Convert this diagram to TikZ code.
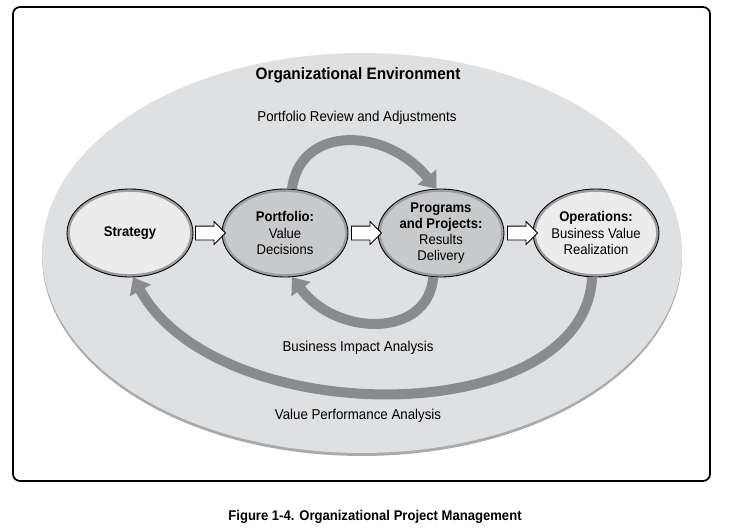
\documentclass[tikz,border=0pt]{standalone}
\usepackage{fontspec}
\setmainfont{Liberation Sans}[FakeStretch=0.93]
\usetikzlibrary{shapes, arrows.meta, positioning, shadows}

\definecolor{envfill}{HTML}{DFE0E2}
\definecolor{envedge}{HTML}{A9AAAC}
\definecolor{lightfill}{HTML}{ECECED}
\definecolor{darkfill}{HTML}{C8C9CB}
\definecolor{ringgray}{HTML}{9C9DA0}
\definecolor{loopgray}{HTML}{8A8B8D}

\begin{document}
\begin{tikzpicture}[x=0.02cm, y=-0.02cm, font=\fontsize{8.15}{9.2}\selectfont,
	stage/.style={ellipse, draw=black, line width=0.5pt, minimum width=2.52cm, minimum height=1.76cm,
		inner sep=-5pt, align=center, font=\fontsize{8}{9.2}\selectfont,
		path picture={\draw[ringgray, line width=3.2pt] (path picture bounding box.center) ellipse [x radius=1.26cm, y radius=0.88cm];}},
	lightstage/.style={stage, fill=lightfill},
	darkstage/.style={stage, fill=darkfill},
	flow/.style={single arrow, draw=black, fill=white, line width=0.5pt, minimum height=0.6cm,
		minimum width=0pt, text height=0pt, text depth=0pt, inner xsep=0pt, inner ysep=0.13cm,
		single arrow head extend=0.09cm},
	loop/.style={draw=loopgray, line width=0.2cm, -{Triangle[width=0.46cm,length=0.3cm]}}]
	\useasboundingbox (0,0) rectangle (752,531);
	\draw[line width=1pt, rounded corners=4pt] (13,7) rectangle (710,481);
	% environment
	\node[ellipse, fill=envfill, minimum width=12.8cm, minimum height=8cm,
		drop shadow={shadow xshift=0pt, shadow yshift=-0.06cm, fill=envedge, opacity=1}] (env) at (362,253) {};
	\node[font=\fontsize{9.4}{11}\selectfont\bfseries] (envtitle) at (358,75) {Organizational Environment};
	% stages
	\node[lightstage] (strat) at (130,233) {\textbf{Strategy}};
	\node[darkstage] (port) at (285,233) {\textbf{Portfolio:}\\Value\\Decisions};
	\node[darkstage] (prog) at (441,233) {\textbf{Programs}\\\textbf{and Projects:}\\Results\\Delivery};
	\node[lightstage] (oper) at (596,233) {\textbf{Operations:}\\Business Value\\Realization};
	% forward flow
	\node[flow] (f1) at (207,233) {};
	\node[flow] (f2) at (363,233) {};
	\node[flow] (f3) at (519,233) {};
	% feedback loops
	\draw[loop] (port.81) .. controls +(8,-64) and +(-50,-62) .. (prog.96);
	\draw[loop] (prog.-100) .. controls +(-5,61) and +(45,60) .. (port.-81);
	\draw[loop] (oper.-95) .. controls +(-8,154) and +(85,154) .. (strat.-86);
	\node (review) at (357,118) {Portfolio Review and Adjustments};
	\node (impact) at (358,348) {Business Impact Analysis};
	\node (value) at (358,416) {Value Performance Analysis};
	% caption
	\node[font=\fontsize{8}{10}\selectfont\bfseries] (caption) at (375,517) {Figure 1-4. Organizational Project Management};
\end{tikzpicture}
\end{document}
